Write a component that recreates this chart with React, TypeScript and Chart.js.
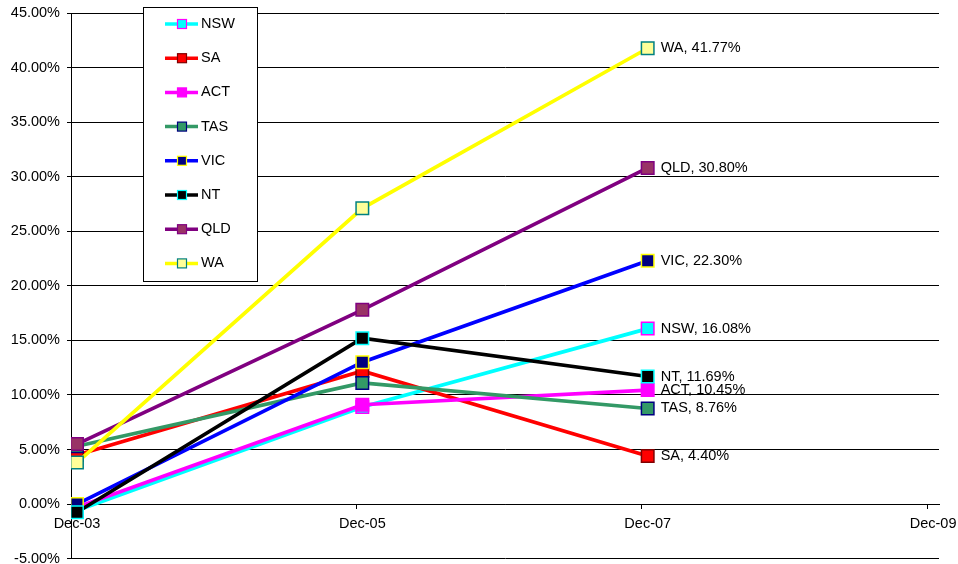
import React, { useEffect, useRef } from "react";
import { Chart, registerables } from "chart.js";

Chart.register(...registerables);

// Data: months since 1 Dec 2003 (points sit mid-month)
const categories = ["Dec-03", "Dec-05", "Dec-07"];
const monthOffsets = [0.5, 24.5, 48.5];
const xTickMonths = [0, 24, 48, 72];
const xTickLabels = ["Dec-03", "Dec-05", "Dec-07", "Dec-09"];
const yMin = -5;
const yMax = 45;
const yStep = 5;

const seriesNames = ["NSW", "SA", "ACT", "TAS", "VIC", "NT", "QLD", "WA"];
const NSW = [-0.6, 8.9, 16.08];
const SA = [4.5, 12.2, 4.4];
const ACT = [-0.3, 9.1, 10.45];
const TAS = [5.3, 11.1, 8.76];
const VIC = [0.0, 13.0, 22.3];
const NT = [-0.75, 15.2, 11.69];
const QLD = [5.5, 17.8, 30.8];
const WA = [3.8, 27.1, 41.77];
const seriesValues = [NSW, SA, ACT, TAS, VIC, NT, QLD, WA];

const lineColors = ["#00FFFF", "#FF0000", "#FF00FF", "#339966", "#0000FF", "#000000", "#800080", "#FFFF00"];
const markerFill = ["#00FFFF", "#FF0000", "#FF00FF", "#339966", "#000080", "#000000", "#993366", "#FFFF99"];
const markerBorder = ["#FF00FF", "#800000", "#FF00FF", "#000080", "#FFFF00", "#00FFFF", "#800080", "#008080"];

const FONT_FAMILY = '"Liberation Sans", Arial, sans-serif';
const FONT_SIZE = 14.5;

const boxLegend = {
  id: "boxLegend",
  afterDraw(chart: any) {
    const ctx = chart.ctx;
    ctx.save();
    const x0 = 143, y0 = 7, w = 114, h = 274;
    ctx.fillStyle = "#ffffff";
    ctx.fillRect(x0, y0, w, h);
    ctx.strokeStyle = "#000000";
    ctx.lineWidth = 1;
    ctx.strokeRect(x0 + 0.5, y0 + 0.5, w, h);
    ctx.font = `${FONT_SIZE}px ${FONT_FAMILY}`;
    ctx.textBaseline = "middle";
    ctx.textAlign = "left";
    chart.data.datasets.forEach((ds: any, i: number) => {
      const cy = 24 + i * 34.2;
      ctx.strokeStyle = ds.borderColor;
      ctx.lineWidth = 3.5;
      ctx.beginPath();
      ctx.moveTo(165, cy);
      ctx.lineTo(198, cy);
      ctx.stroke();
      ctx.fillStyle = ds.pointBackgroundColor;
      ctx.fillRect(177.5, cy - 4.5, 9, 9);
      ctx.strokeStyle = ds.pointBorderColor;
      ctx.lineWidth = 1.2;
      ctx.strokeRect(177.5, cy - 4.5, 9, 9);
      ctx.fillStyle = "#000000";
      ctx.fillText(ds.label, 201, cy);
    });
    ctx.restore();
  },
};

const endLabels = {
  id: "endLabels",
  afterDatasetsDraw(chart: any) {
    const ctx = chart.ctx;
    ctx.save();
    ctx.font = `${FONT_SIZE}px ${FONT_FAMILY}`;
    ctx.textBaseline = "middle";
    ctx.textAlign = "left";
    ctx.fillStyle = "#000000";
    chart.data.datasets.forEach((ds: any, i: number) => {
      const meta = chart.getDatasetMeta(i);
      const last = meta.data.length - 1;
      const pt = meta.data[last];
      const v = ds.data[last].y;
      ctx.fillText(`${ds.label}, ${v.toFixed(2)}%`, pt.x + 13, pt.y);
    });
    ctx.restore();
  },
};

export default function App() {
  const ref = useRef<HTMLCanvasElement>(null);

  useEffect(() => {
    if (!ref.current) return;
    Chart.defaults.font.family = FONT_FAMILY;
    Chart.defaults.font.size = FONT_SIZE;
    Chart.defaults.color = "#000000";

    const datasets = seriesNames.map((name, i) => ({
      label: name,
      data: seriesValues[i].map((v, j) => ({ x: monthOffsets[j], y: v })),
      borderColor: lineColors[i],
      backgroundColor: lineColors[i],
      borderWidth: 3.7,
      pointStyle: "rect",
      pointRadius: 8.85,
      pointBorderWidth: 1.5,
      pointBackgroundColor: markerFill[i],
      pointBorderColor: markerBorder[i],
      tension: 0,
      fill: false,
      order: seriesNames.length - i,
    }));

    const chart = new Chart(ref.current, {
      type: "line",
      data: { labels: categories, datasets },
      options: {
        animation: false,
        responsive: false,
        layout: { padding: { top: 13, right: 19, bottom: 6, left: 0 } },
        plugins: {
          legend: { display: false },
          tooltip: { enabled: false },
        },
        scales: {
          x: {
            type: "linear",
            position: { y: 0 } as any,
            min: 0,
            max: 73,
            afterBuildTicks: (axis: any) => {
              axis.ticks = xTickMonths.map((v) => ({ value: v }));
            },
            ticks: {
              callback: (value: any) => {
                const idx = xTickMonths.indexOf(Number(value));
                return idx >= 0 ? xTickLabels[idx] : "";
              },
              labelOffset: 6,
              padding: 7,
              maxRotation: 0,
              autoSkip: false,
              color: "#000000",
            },
            grid: {
              drawOnChartArea: false,
              drawTicks: true,
              tickLength: 4,
              color: "#000000",
            },
            border: { display: true, color: "#000000", width: 1 },
          },
          y: {
            type: "linear",
            min: yMin,
            max: yMax,
            afterFit: (axis: any) => {
              axis.width = 71;
              axis.paddingTop = 0;
              axis.paddingBottom = 0;
            },
            ticks: {
              stepSize: yStep,
              padding: 7,
              color: "#000000",
              callback: (value: any) => `${Number(value).toFixed(2)}%`,
            },
            grid: {
              color: "#000000",
              lineWidth: 1,
              tickLength: 4,
              drawTicks: true,
            },
            border: { display: true, color: "#000000", width: 1 },
          },
        },
      },
      plugins: [endLabels, boxLegend],
    });
    return () => chart.destroy();
  }, []);

  return (
    <div style={{ position: "absolute", left: 0, top: 0, width: 958, height: 564, overflow: "hidden", background: "#ffffff" }}>
      <canvas ref={ref} width={958} height={569} style={{ display: "block" }} />
    </div>
  );
}
